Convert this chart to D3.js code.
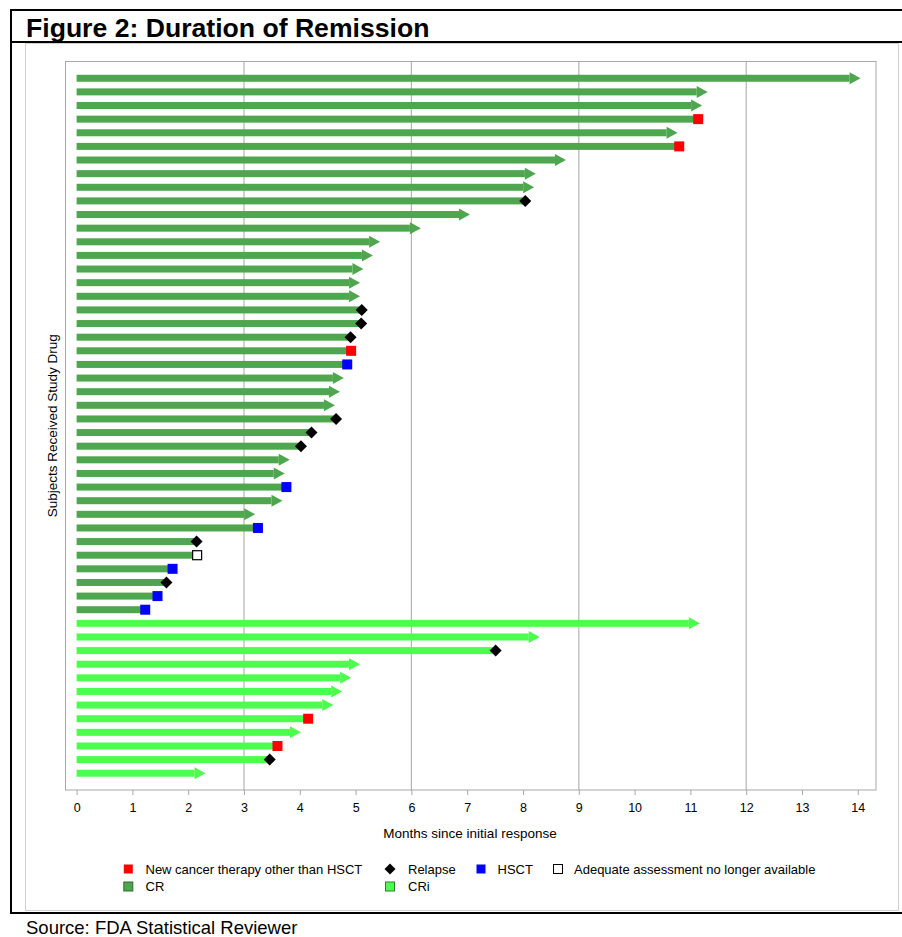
<!DOCTYPE html>
<html>
<head>
<meta charset="utf-8">
<script src="https://cdn.jsdelivr.net/npm/d3@7"></script>
<style>
  html, body { margin: 0; padding: 0; background: #fff; }
  svg { display: block; font-family: "Liberation Sans", Arial, sans-serif; }
</style>
</head>
<body>
<svg id="chart" width="902" height="937"></svg>
<script>
// Remission duration per subject (months since initial response), sorted within response group
const responseGroup = [
  "CR","CR","CR","CR","CR","CR","CR","CR","CR","CR",
  "CR","CR","CR","CR","CR","CR","CR","CR","CR","CR",
  "CR","CR","CR","CR","CR","CR","CR","CR","CR","CR",
  "CR","CR","CR","CR","CR","CR","CR","CR","CR","CR",
  "CRi","CRi","CRi","CRi","CRi","CRi","CRi","CRi","CRi","CRi","CRi","CRi"
];
const months = [
  14.05, 11.31, 11.21, 11.14, 10.77, 10.80, 8.77, 8.23, 8.20, 8.04,
  7.05, 6.17, 5.44, 5.31, 5.14, 5.08, 5.08, 5.11, 5.10, 4.91,
  4.92, 4.85, 4.79, 4.72, 4.63, 4.65, 4.21, 4.02, 3.82, 3.73,
  3.76, 3.69, 3.20, 3.25, 2.15, 2.16, 1.72, 1.61, 1.45, 1.23,
  11.17, 8.30, 7.51, 5.08, 4.92, 4.76, 4.60, 4.15, 4.02, 3.60, 3.46, 2.31
];
// Event ending the remission; "" = ongoing (drawn with an arrow)
const endEvent = [
  "", "", "", "NewTx", "", "NewTx", "", "", "", "Relapse",
  "", "", "", "", "", "", "", "Relapse", "Relapse", "Relapse",
  "NewTx", "HSCT", "", "", "", "Relapse", "Relapse", "Relapse", "", "",
  "HSCT", "", "", "HSCT", "Relapse", "NoAssess", "HSCT", "Relapse", "HSCT", "HSCT",
  "", "", "Relapse", "", "", "", "", "NewTx", "", "NewTx", "Relapse", ""
];
const xTicks = d3.range(0, 15);
const gridMonths = [3, 6, 9, 12];

const eventLegend = [
  { key: "NewTx", label: "New cancer therapy other than HSCT" },
  { key: "Relapse", label: "Relapse" },
  { key: "HSCT", label: "HSCT" },
  { key: "NoAssess", label: "Adequate assessment no longer available" }
];
const groupLegend = ["CR", "CRi"];

const groupColor = { CR: "#4ea64e", CRi: "#4cff4c" };
const groupEdge = { CR: "#2e6b2e", CRi: "#2e7a2e" };

const rows = months.map((m, i) => ({ id: i, value: m, group: responseGroup[i], event: endEvent[i] }));

const svg = d3.select("#chart");

// ---- page frame: title row, left rule, bottom rule ----
const frame = svg.append("g");
frame.append("line").attr("x1", 11).attr("x2", 902).attr("y1", 10).attr("y2", 10)
  .attr("stroke", "#000").attr("stroke-width", 2);
frame.append("line").attr("x1", 11).attr("x2", 902).attr("y1", 42).attr("y2", 42)
  .attr("stroke", "#000").attr("stroke-width", 2);
frame.append("line").attr("x1", 11).attr("x2", 902).attr("y1", 913).attr("y2", 913)
  .attr("stroke", "#000").attr("stroke-width", 2);
frame.append("line").attr("x1", 11).attr("x2", 11).attr("y1", 9).attr("y2", 914)
  .attr("stroke", "#000").attr("stroke-width", 2);

svg.append("text").attr("x", 26).attr("y", 36.5)
  .attr("font-size", 26.6).attr("font-weight", "bold").attr("fill", "#000")
  .text("Figure 2: Duration of Remission");

svg.append("text").attr("x", 26).attr("y", 934)
  .attr("font-size", 18.5).attr("fill", "#000")
  .text("Source: FDA Statistical Reviewer");

// graph area border
svg.append("rect").attr("x", 25.5).attr("y", 43.5).attr("width", 873).attr("height", 867)
  .attr("fill", "none").attr("stroke", "#d0d0d0").attr("stroke-width", 1);

// ---- plot ----
const plot = { left: 65.5, right: 876, top: 61.5, bottom: 790 };

const x = d3.scaleLinear().domain([0, 3]).range([76.6, 244]);
const y = d3.scalePoint().domain(rows.map(d => d.id))
  .range([plot.top, plot.bottom]).padding(1.23);

const g = svg.append("g");

// vertical reference lines
g.selectAll("line.grid").data(gridMonths).join("line")
  .attr("class", "grid")
  .attr("x1", d => x(d)).attr("x2", d => x(d))
  .attr("y1", plot.top).attr("y2", plot.bottom)
  .attr("stroke", "#b4b4b4").attr("stroke-width", 1.2);

const barH = 7, headLen = 11, headH = 12;

// bars (ongoing remissions end in an arrow head at their value)
g.selectAll("rect.bar").data(rows).join("rect")
  .attr("class", "bar")
  .attr("x", x(0))
  .attr("y", d => y(d.id) - barH / 2)
  .attr("width", d => Math.max(0, x(d.value) - x(0) - (d.event === "" ? headLen : 0)))
  .attr("height", barH)
  .attr("fill", d => groupColor[d.group]);

g.selectAll("path.head").data(rows.filter(d => d.event === "")).join("path")
  .attr("class", "head")
  .attr("d", d => {
    const tx = x(d.value), cy = y(d.id);
    return `M${tx - headLen},${cy - headH / 2}L${tx},${cy}L${tx - headLen},${cy + headH / 2}Z`;
  })
  .attr("fill", d => groupColor[d.group]);

// event markers
function drawMarker(sel, key, cx, cy) {
  if (key === "NewTx" || key === "HSCT") {
    sel.append("rect").attr("x", cx - 5).attr("y", cy - 5).attr("width", 10).attr("height", 10)
      .attr("fill", key === "NewTx" ? "#ff0000" : "#0000ff");
  } else if (key === "Relapse") {
    const r = 6;
    sel.append("path").attr("d", `M${cx},${cy - r}L${cx + r},${cy}L${cx},${cy + r}L${cx - r},${cy}Z`)
      .attr("fill", "#000");
  } else if (key === "NoAssess") {
    sel.append("rect").attr("x", cx - 4.5).attr("y", cy - 4.5).attr("width", 9).attr("height", 9)
      .attr("fill", "#fff").attr("stroke", "#000").attr("stroke-width", 1.2);
  }
}
const markerLayer = g.append("g");
rows.filter(d => d.event !== "").forEach(d => {
  drawMarker(markerLayer, d.event, x(d.value), y(d.id));
});

// plot frame
g.append("rect").attr("x", plot.left).attr("y", plot.top)
  .attr("width", plot.right - plot.left).attr("height", plot.bottom - plot.top)
  .attr("fill", "none").attr("stroke", "#a8a8a8").attr("stroke-width", 1);

// x axis
const xAxis = d3.axisBottom(x).tickValues(xTicks).tickSize(5).tickPadding(8).tickFormat(d3.format("d"));
const ax = svg.append("g").attr("transform", `translate(0,${plot.bottom})`).call(xAxis);
ax.select(".domain").remove();
ax.selectAll(".tick line").attr("stroke", "#a8a8a8");
ax.selectAll(".tick text").attr("font-size", 12.5).attr("fill", "#000")
  .attr("font-family", "'Liberation Sans', Arial, sans-serif");

svg.append("text").attr("x", 470).attr("y", 838).attr("text-anchor", "middle")
  .attr("font-size", 13.5).attr("fill", "#000")
  .text("Months since initial response");

svg.append("text")
  .attr("transform", `translate(57,${(plot.top + plot.bottom) / 2}) rotate(-90)`)
  .attr("text-anchor", "middle").attr("font-size", 13.5).attr("fill", "#000")
  .text("Subjects Received Study Drug");

// ---- legend ----
const leg = svg.append("g");
const row1Y = 869, row2Y = 886.5;
const evX = [128.3, 390, 481, 558];
const evTextX = [145.5, 408, 497.5, 574];
eventLegend.forEach((e, i) => {
  if (e.key === "NewTx" || e.key === "HSCT") {
    leg.append("rect").attr("x", evX[i] - 4.5).attr("y", row1Y - 4.5).attr("width", 9).attr("height", 9)
      .attr("fill", e.key === "NewTx" ? "#ff0000" : "#0000ff");
  } else if (e.key === "Relapse") {
    const r = 5.5;
    leg.append("path").attr("d", `M${evX[i]},${row1Y - r}L${evX[i] + r},${row1Y}L${evX[i]},${row1Y + r}L${evX[i] - r},${row1Y}Z`)
      .attr("fill", "#000");
  } else {
    leg.append("rect").attr("x", evX[i] - 4.5).attr("y", row1Y - 4.5).attr("width", 9).attr("height", 9)
      .attr("fill", "#fff").attr("stroke", "#000").attr("stroke-width", 1);
  }
  leg.append("text").attr("x", evTextX[i]).attr("y", row1Y + 4.5)
    .attr("font-size", 13).attr("fill", "#000").text(e.label);
});
groupLegend.forEach((gname, i) => {
  leg.append("rect").attr("x", evX[i] - 4.5).attr("y", row2Y - 4.5).attr("width", 9).attr("height", 9)
    .attr("fill", groupColor[gname]).attr("stroke", groupEdge[gname]).attr("stroke-width", 1);
  leg.append("text").attr("x", evTextX[i]).attr("y", row2Y + 4.5)
    .attr("font-size", 13).attr("fill", "#000").text(gname);
});
</script>
</body>
</html>
